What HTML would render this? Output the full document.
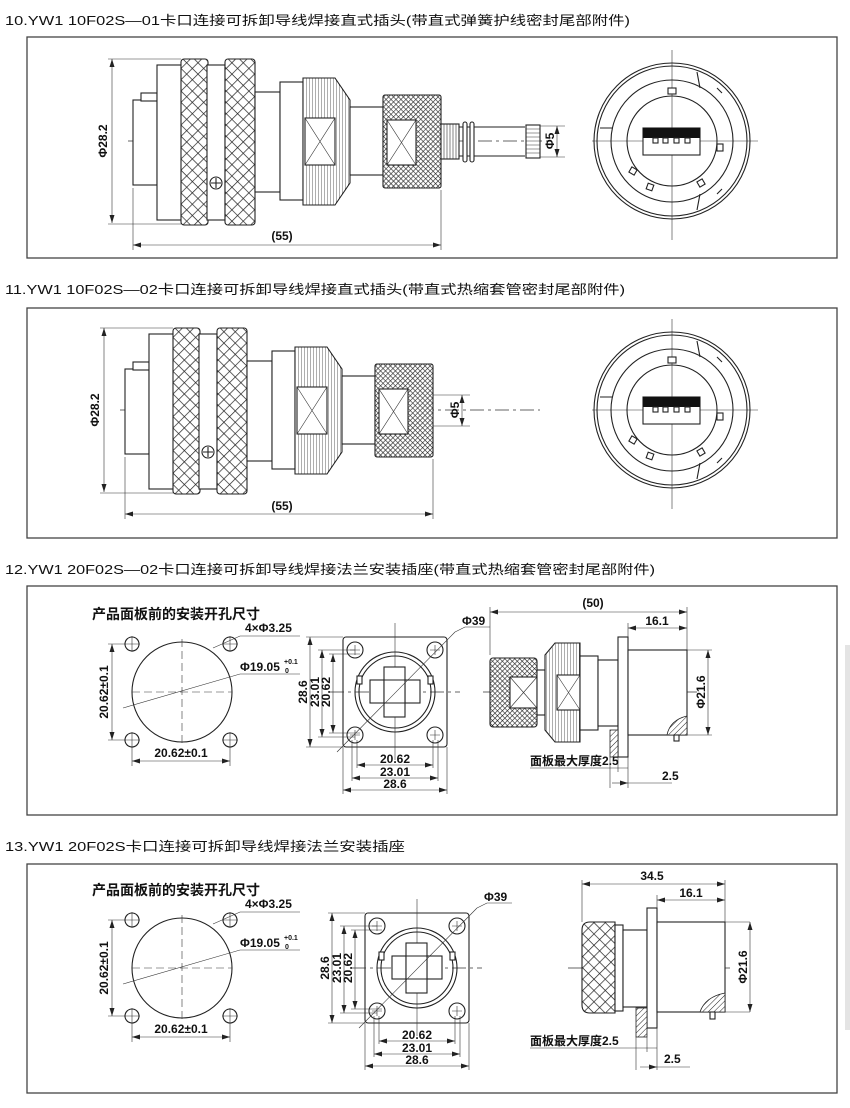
<!DOCTYPE html>
<html><head><meta charset="utf-8"><style>
html,body{margin:0;padding:0;background:#fff;}
svg{display:block;}
text{font-family:"Liberation Sans","Noto Sans CJK SC",sans-serif;fill:#111;}
.t{font-size:13px;}
.d{font-size:12px;font-weight:bold;}
.o{fill:none;stroke:#222;stroke-width:1.1;}
.w{fill:#fff;stroke:#222;stroke-width:1.1;}
.th{fill:none;stroke:#333;stroke-width:0.6;}
.c{stroke:#333;stroke-width:0.8;stroke-dasharray:14 4 3 4;fill:none;}
.dm{stroke:#333;stroke-width:0.6;fill:none;}
.box{fill:none;stroke:#444;stroke-width:1.3;}
</style></head><body>
<svg width="850" height="1108" viewBox="0 0 850 1108" xmlns="http://www.w3.org/2000/svg">
<defs>
<pattern id="kn" width="8" height="8" patternUnits="userSpaceOnUse" patternTransform="rotate(45)">
<rect width="8" height="8" fill="#fff"/><line x1="0" y1="0" x2="0" y2="8" stroke="#222" stroke-width="1.4"/><line x1="0" y1="0" x2="8" y2="0" stroke="#222" stroke-width="1.4"/></pattern>
<pattern id="kn2" width="3.5" height="3.5" patternUnits="userSpaceOnUse" patternTransform="rotate(45)">
<rect width="3.5" height="3.5" fill="#fff"/><line x1="0" y1="0" x2="0" y2="3.5" stroke="#222" stroke-width="1.2"/><line x1="0" y1="0" x2="3.5" y2="0" stroke="#222" stroke-width="1.2"/></pattern>
<pattern id="vl" width="3" height="3" patternUnits="userSpaceOnUse">
<rect width="3" height="3" fill="#fff"/><line x1="0" y1="0" x2="0" y2="3" stroke="#333" stroke-width="0.8"/></pattern>
<pattern id="hl" width="4" height="4" patternUnits="userSpaceOnUse" patternTransform="rotate(45)">
<rect width="4" height="4" fill="#fff"/><line x1="0" y1="0" x2="0" y2="4" stroke="#222" stroke-width="1"/></pattern>
<marker id="a" markerWidth="8" markerHeight="6" refX="8" refY="3" orient="auto-start-reverse" markerUnits="userSpaceOnUse"><path d="M0,0.5 L8,3 L0,5.5Z" fill="#222"/></marker>

<g id="plug">
<line class="c" x1="128" y1="141" x2="548" y2="141"/>
<rect class="w" x="133" y="100" width="24" height="85"/>
<rect class="w" x="141" y="93" width="16" height="8"/>
<rect class="w" x="157" y="65" width="25" height="155"/>
<rect x="181" y="59" width="27" height="166" rx="3" fill="url(#kn)" stroke="#222" stroke-width="1.1"/>
<rect class="w" x="207" y="65" width="18" height="155"/>
<rect x="225" y="59" width="30" height="166" rx="3" fill="url(#kn)" stroke="#222" stroke-width="1.1"/>
<circle class="w" cx="216" cy="183" r="6"/><path class="o" d="M216 178V188M211 183H221"/>
<rect class="w" x="255" y="92" width="25" height="100"/>
<rect class="w" x="280" y="82" width="23" height="118"/>
<path d="M303 78H335L350 100V183L335 205H303Z" fill="url(#vl)" stroke="#222" stroke-width="1.1"/>
<rect class="w" x="305" y="118" width="30" height="47"/><path class="th" d="M305 118L335 165M335 118L305 165"/>
<rect class="w" x="350" y="107" width="33" height="68"/>
<rect x="383" y="95" width="58" height="93" rx="2" fill="url(#kn2)" stroke="#222" stroke-width="1.1"/>
<rect class="w" x="387" y="120" width="29" height="45"/><path class="th" d="M387 120L416 165M416 120L387 165"/>
<line class="dm" x1="112" y1="59" x2="112" y2="223" marker-start="url(#a)" marker-end="url(#a)"/>
<line class="dm" x1="108" y1="59" x2="181" y2="59"/><line class="dm" x1="108" y1="224" x2="181" y2="224"/>
<text class="d" transform="translate(107,141) rotate(-90)" text-anchor="middle">Φ28.2</text>
<line class="dm" x1="133" y1="188" x2="133" y2="250"/><line class="dm" x1="441" y1="190" x2="441" y2="250"/>
<line class="dm" x1="133" y1="245" x2="441" y2="245" marker-start="url(#a)" marker-end="url(#a)"/>
</g>

<g id="endv">
<line class="dm" x1="592" y1="141" x2="758" y2="141"/><line class="dm" x1="672" y1="50" x2="672" y2="240"/>
<circle class="o" cx="672" cy="141" r="78" stroke-width="1.5"/>
<circle class="o" cx="672" cy="141" r="75"/>
<circle class="o" cx="672" cy="141" r="61"/>
<circle class="o" cx="672" cy="141" r="45"/>
<path class="o" d="M697 72L700 88M717 88L722 93M600 128L613 128M697 210L700 194M717 194L722 189"/>
<rect class="w" x="668" y="88" width="8" height="6"/>
<rect class="w" x="643" y="128" width="57" height="27"/>
<rect x="643" y="128" width="57" height="10" fill="#111"/>
<rect class="w" x="653" y="138" width="5" height="5"/><rect class="w" x="663" y="138" width="5" height="5"/><rect class="w" x="674" y="138" width="5" height="5"/><rect class="w" x="685" y="138" width="5" height="5"/>
<rect class="w" x="717" y="144" width="6" height="7"/>
<rect class="w" x="630" y="168" width="6" height="6" transform="rotate(30 633 171)"/>
<rect class="w" x="647" y="184" width="6" height="6" transform="rotate(20 650 187)"/>
<rect class="w" x="698" y="180" width="6" height="6" transform="rotate(-30 701 183)"/>
</g>

<g id="cut">
<text x="92" y="895" style="font-size:14px;font-weight:bold">产品面板前的安装开孔尺寸</text>
<circle class="o" cx="182" cy="968" r="50"/>
<line class="dm" x1="132" y1="968" x2="232" y2="968" stroke-dasharray="8 4"/><line class="dm" x1="182" y1="915" x2="182" y2="1020" stroke-dasharray="8 4"/>
<g class="o"><circle cx="132" cy="920" r="7"/><circle cx="230" cy="920" r="7"/><circle cx="132" cy="1016" r="7"/><circle cx="230" cy="1016" r="7"/></g>
<path class="dm" d="M124 920H140M132 912V928M222 920H238M230 912V928M124 1016H140M132 1008V1024M222 1016H238M230 1008V1024"/>
<line class="dm" x1="112" y1="920" x2="112" y2="1016" marker-start="url(#a)" marker-end="url(#a)"/>
<path class="dm" d="M108 920H125M108 1016H125M132 1023V1042M230 1023V1042"/>
<line class="dm" x1="132" y1="1037" x2="230" y2="1037" marker-start="url(#a)" marker-end="url(#a)"/>
<text class="d" transform="translate(108,968) rotate(-90)" text-anchor="middle">20.62±0.1</text>
<text class="d" x="181" y="1033" text-anchor="middle">20.62±0.1</text>
<path class="dm" d="M213 924L240 912H300"/><text class="d" x="245" y="908">4×Φ3.25</text>
<path class="dm" d="M123 984L240 950H300"/><text class="d" x="240" y="947">Φ19.05</text>
<text x="284" y="940" style="font-size:7px;font-weight:bold">+0.1</text><text x="285" y="949" style="font-size:7px;font-weight:bold">0</text>
</g>

<g id="flange">
<rect class="w" x="343" y="637" width="104" height="110" rx="3"/>
<line class="c" x1="330" y1="692" x2="460" y2="692"/><line class="dm" x1="395" y1="623" x2="395" y2="760"/>
<circle class="o" cx="395" cy="692" r="40" stroke-width="1.4"/><circle class="o" cx="395" cy="692" r="36"/>
<g class="o"><rect x="347" y="642" width="16" height="16" rx="8"/><rect x="427" y="642" width="16" height="16" rx="8"/><rect x="347" y="727" width="16" height="16" rx="8"/><rect x="427" y="727" width="16" height="16" rx="8"/></g>
<path class="dm" d="M350 650H360M355 645V655M430 650H440M435 645V655M350 735H360M355 730V740M430 735H440M435 730V740"/>
<rect class="w" x="370" y="680" width="50" height="23"/><rect class="w" x="384" y="667" width="21" height="50"/>
<path class="w" d="M384 680H405V703H384Z" stroke="none"/>
<rect class="w" x="357" y="676" width="5" height="8"/><rect class="w" x="428" y="676" width="5" height="8"/>
<line class="dm" x1="337" y1="752" x2="455" y2="632"/><path class="dm" d="M455 632L465 627H490"/>
<text class="d" x="462" y="625">Φ39</text>
<path class="dm" d="M306 637H343M318 650H355M329 654H360M306 747H343M318 737H355M329 733H360"/>
<line class="dm" x1="310" y1="637" x2="310" y2="747" marker-start="url(#a)" marker-end="url(#a)"/>
<line class="dm" x1="322" y1="650" x2="322" y2="737" marker-start="url(#a)" marker-end="url(#a)"/>
<line class="dm" x1="333" y1="654" x2="333" y2="733" marker-start="url(#a)" marker-end="url(#a)"/>
<text class="d" transform="translate(307,692) rotate(-90)" text-anchor="middle">28.6</text>
<text class="d" transform="translate(319,692) rotate(-90)" text-anchor="middle">23.01</text>
<text class="d" transform="translate(330,692) rotate(-90)" text-anchor="middle">20.62</text>
<path class="dm" d="M357 740V768M433 740V768M352 740V781M438 740V781M343 747V794M447 747V794"/>
<line class="dm" x1="357" y1="765" x2="433" y2="765" marker-start="url(#a)" marker-end="url(#a)"/>
<line class="dm" x1="352" y1="778" x2="438" y2="778" marker-start="url(#a)" marker-end="url(#a)"/>
<line class="dm" x1="343" y1="790" x2="447" y2="790" marker-start="url(#a)" marker-end="url(#a)"/>
<text class="d" x="395" y="763" text-anchor="middle">20.62</text>
<text class="d" x="395" y="776" text-anchor="middle">23.01</text>
<text class="d" x="395" y="788" text-anchor="middle">28.6</text>
</g>
</defs>

<text class="t" x="5" y="25" textLength="625" lengthAdjust="spacingAndGlyphs">10.YW1 10F02S—01卡口连接可拆卸导线焊接直式插头(带直式弹簧护线密封尾部附件)</text>
<text class="t" x="5" y="294" textLength="620" lengthAdjust="spacingAndGlyphs">11.YW1 10F02S—02卡口连接可拆卸导线焊接直式插头(带直式热缩套管密封尾部附件)</text>
<text class="t" x="5" y="574" textLength="650" lengthAdjust="spacingAndGlyphs">12.YW1 20F02S—02卡口连接可拆卸导线焊接法兰安装插座(带直式热缩套管密封尾部附件)</text>
<text class="t" x="5" y="851" textLength="400" lengthAdjust="spacingAndGlyphs">13.YW1 20F02S卡口连接可拆卸导线焊接法兰安装插座</text>

<rect class="box" x="27" y="37" width="810" height="221"/>
<rect class="box" x="27" y="308" width="810" height="230"/>
<rect class="box" x="27" y="586" width="810" height="229"/>
<rect class="box" x="27" y="864" width="810" height="229"/>
<rect x="845" y="645" width="5" height="385" fill="#e4e4e4"/>

<use href="#plug"/>
<g>
<rect class="w" x="441" y="124" width="18" height="35"/>
<path class="th" d="M444 124V159M447 124V159M450 124V159M453 124V159M456 124V159"/>
<path class="o" d="M459 127H525M459 156H525"/>
<rect class="w" x="463" y="122" width="4" height="40" rx="2"/><rect class="w" x="470" y="122" width="4" height="40" rx="2"/>
<rect class="w" x="526" y="125" width="14" height="33"/>
<path class="th" d="M526 129H540M526 133H540M526 137H540M526 141H540M526 145H540M526 149H540M526 153H540"/>
<path class="dm" d="M540 126H565M540 157H565"/>
<line class="dm" x1="557" y1="126" x2="557" y2="157" marker-start="url(#a)" marker-end="url(#a)"/>
<text class="d" transform="translate(554,141) rotate(-90)" text-anchor="middle">Φ5</text>
</g>
<text class="d" x="282" y="240" text-anchor="middle">(55)</text>
<use href="#endv"/>

<use href="#plug" transform="translate(-8,269)"/>
<path class="dm" d="M433 395H470M433 426H470"/>
<line class="dm" x1="462" y1="395" x2="462" y2="426" marker-start="url(#a)" marker-end="url(#a)"/>
<text class="d" transform="translate(459,410) rotate(-90)" text-anchor="middle">Φ5</text>
<text class="d" x="282" y="510" text-anchor="middle">(55)</text>
<use href="#endv" transform="translate(0,269)"/>

<use href="#cut" transform="translate(0,-276)"/>
<use href="#flange"/>
<g>
<line class="c" x1="483" y1="692" x2="697" y2="692"/>
<rect x="490" y="658" width="47" height="69" rx="3" fill="url(#kn2)" stroke="#222" stroke-width="1.1"/>
<rect class="w" x="510" y="677" width="27" height="31"/><path class="th" d="M510 677L537 708M537 677L510 708"/>
<rect class="w" x="537" y="670" width="8" height="45"/>
<path d="M545 655L555 643H580V742H555L545 730Z" fill="url(#vl)" stroke="#222" stroke-width="1.1"/>
<rect class="w" x="557" y="675" width="23" height="35"/><path class="th" d="M557 675L580 710M580 675L557 710"/>
<rect class="w" x="580" y="656" width="18" height="74"/>
<rect class="w" x="598" y="660" width="20" height="66"/>
<rect class="w" x="618" y="637" width="10" height="120"/>
<rect class="w" x="628" y="650" width="59" height="85"/>
<rect x="610" y="730" width="8" height="27" fill="url(#hl)" stroke="#222" stroke-width="0.8"/>
<path d="M667 735Q670 720 687 716V735Z" fill="url(#hl)" stroke="#222" stroke-width="0.8"/>
<rect class="w" x="674" y="735" width="5" height="6"/>
<path class="dm" d="M490 655V607M687 650V607M628 637V623M687 735H712M687 650H712"/>
<line class="dm" x1="490" y1="612" x2="687" y2="612" marker-start="url(#a)" marker-end="url(#a)"/>
<text class="d" x="593" y="607" text-anchor="middle">(50)</text>
<line class="dm" x1="628" y1="628" x2="687" y2="628" marker-start="url(#a)" marker-end="url(#a)"/>
<text class="d" x="657" y="625" text-anchor="middle">16.1</text>
<line class="dm" x1="708" y1="650" x2="708" y2="735" marker-start="url(#a)" marker-end="url(#a)"/>
<text class="d" transform="translate(705,692) rotate(-90)" text-anchor="middle">Φ21.6</text>
<text class="d" x="530" y="765">面板最大厚度2.5</text>
<path class="dm" d="M530 768H628M610 757V788M618 757V772M628 757V788"/>
<line class="dm" x1="612" y1="783" x2="628" y2="783" marker-end="url(#a)"/>
<line class="dm" x1="628" y1="783" x2="672" y2="783"/>
<text class="d" x="662" y="780">2.5</text>
</g>

<use href="#cut"/>
<use href="#flange" transform="translate(22,276)"/>
<g>
<line class="c" x1="568" y1="968" x2="730" y2="968"/>
<path d="M590 922H615V1013H590Q582 1013 582 1005V930Q582 922 590 922Z" fill="url(#kn)" stroke="#222" stroke-width="1.1"/>
<rect class="w" x="615" y="925" width="8" height="86"/>
<rect class="w" x="623" y="930" width="24" height="77"/>
<rect class="w" x="647" y="908" width="10" height="120"/>
<rect class="w" x="657" y="922" width="68" height="90"/>
<rect x="636" y="1008" width="11" height="29" fill="url(#hl)" stroke="#222" stroke-width="0.8"/>
<path d="M700 1012Q705 997 725 993V1012Z" fill="url(#hl)" stroke="#222" stroke-width="0.8"/>
<rect class="w" x="710" y="1012" width="5" height="7"/>
<path class="dm" d="M582 922V880M725 922V880M657 908V895M725 1012H750M725 922H750"/>
<line class="dm" x1="582" y1="884" x2="725" y2="884" marker-start="url(#a)" marker-end="url(#a)"/>
<text class="d" x="652" y="880" text-anchor="middle">34.5</text>
<line class="dm" x1="657" y1="900" x2="725" y2="900" marker-start="url(#a)" marker-end="url(#a)"/>
<text class="d" x="691" y="897" text-anchor="middle">16.1</text>
<line class="dm" x1="750" y1="922" x2="750" y2="1012" marker-start="url(#a)" marker-end="url(#a)"/>
<text class="d" transform="translate(747,967) rotate(-90)" text-anchor="middle">Φ21.6</text>
<text class="d" x="530" y="1045">面板最大厚度2.5</text>
<path class="dm" d="M530 1048H657M636 1037V1070M647 1037V1052M657 1028V1070"/>
<line class="dm" x1="640" y1="1067" x2="657" y2="1067" marker-end="url(#a)"/>
<line class="dm" x1="657" y1="1067" x2="690" y2="1067"/>
<text class="d" x="664" y="1063">2.5</text>
</g>
</svg>
</body></html>
